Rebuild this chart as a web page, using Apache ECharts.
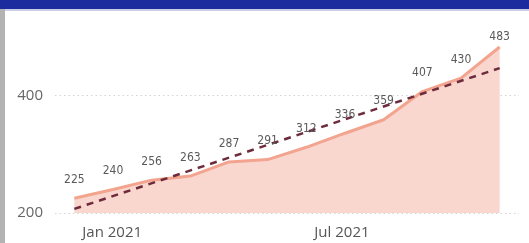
<!DOCTYPE html>
<html><head><meta charset="utf-8">
<script src="https://cdn.jsdelivr.net/npm/echarts@6/dist/echarts.min.js"></script>
<style>
html,body{margin:0;padding:0;background:#fff;}
#wrap{position:relative;width:529px;height:243px;overflow:hidden;background:#fff;}
#topbar{position:absolute;left:0;top:0;width:529px;height:9px;background:#1b2c9e;}
#topline{position:absolute;left:0;top:9px;width:529px;height:2px;background:#c9cde6;}
#leftbar{position:absolute;left:0;top:9px;width:5px;height:234px;background:#b3b3b3;}
#chart{position:absolute;left:0;top:0;width:529px;height:243px;}
</style></head>
<body><div id="wrap"><div id="chart"></div><div id="topbar"></div><div id="topline"></div><div id="leftbar"></div></div>
<script>
const categories = ['Jan 2021','Feb 2021','Mar 2021','Apr 2021','May 2021','Jun 2021','Jul 2021','Aug 2021','Sep 2021','Oct 2021','Nov 2021','Dec 2021'];
const values = [225,240,256,263,287,291,312,336,359,407,430,483];
const trendStart = 207;
const trendEnd = 447;
const yTicks = [200, 400];

const lastIdx = values.length - 1;
const labelData = values.map((v, i) => i === lastIdx ? {value: v, label: {distance: 4}} : v);

const chart = echarts.init(document.getElementById('chart'));
chart.setOption({
  animation: false,
  grid: {left: 55, right: 10, top: 37, bottom: 30},
  xAxis: {
    type: 'category', data: categories, boundaryGap: true,
    axisLine: {show: false}, axisTick: {show: false},
    axisLabel: {
      interval: 0, align: 'left', margin: 12, padding: [0, 0, 0, 8],
      color: '#555', fontSize: 15, fontFamily: 'Open Sans',
      formatter: (v, i) => (i % 6 === 0 ? v : '')
    }
  },
  yAxis: {
    type: 'value', min: 200, max: 500, interval: 200,
    axisLine: {show: false}, axisTick: {show: false},
    axisLabel: {
      showMaxLabel: false, margin: 12,
      color: '#666', fontSize: 15, fontFamily: 'Open Sans',
      formatter: v => (yTicks.indexOf(v) >= 0 ? String(v) : '')
    },
    splitLine: {lineStyle: {color: ['#d4d4d4','#d4d4d4','rgba(0,0,0,0)'], type: [1.5, 3], width: 1}}
  },
  series: [
    {
      type: 'line', data: values, symbol: 'none',
      lineStyle: {color: '#f2a48f', width: 3},
      areaStyle: {color: '#f9d7cf', opacity: 1, origin: 'start'},
      z: 2
    },
    {
      type: 'line', data: [[0, trendStart], [categories.length - 1, trendEnd]],
      symbol: 'none', silent: true,
      lineStyle: {color: '#6e2b3c', width: 2.5, type: [7, 6]},
      z: 3
    },
    {
      type: 'line', data: labelData, symbol: 'circle', symbolSize: 1, showSymbol: true,
      itemStyle: {color: 'rgba(0,0,0,0)', borderWidth: 0},
      lineStyle: {opacity: 0, width: 0},
      label: {
        show: true, position: 'top', distance: 12,
        color: '#5a5a5a', fontSize: 12, fontFamily: 'DejaVu Sans Condensed, Roboto, sans-serif'
      },
      labelLayout: {hideOverlap: false},
      z: 4
    }
  ]
});
</script></body></html>
